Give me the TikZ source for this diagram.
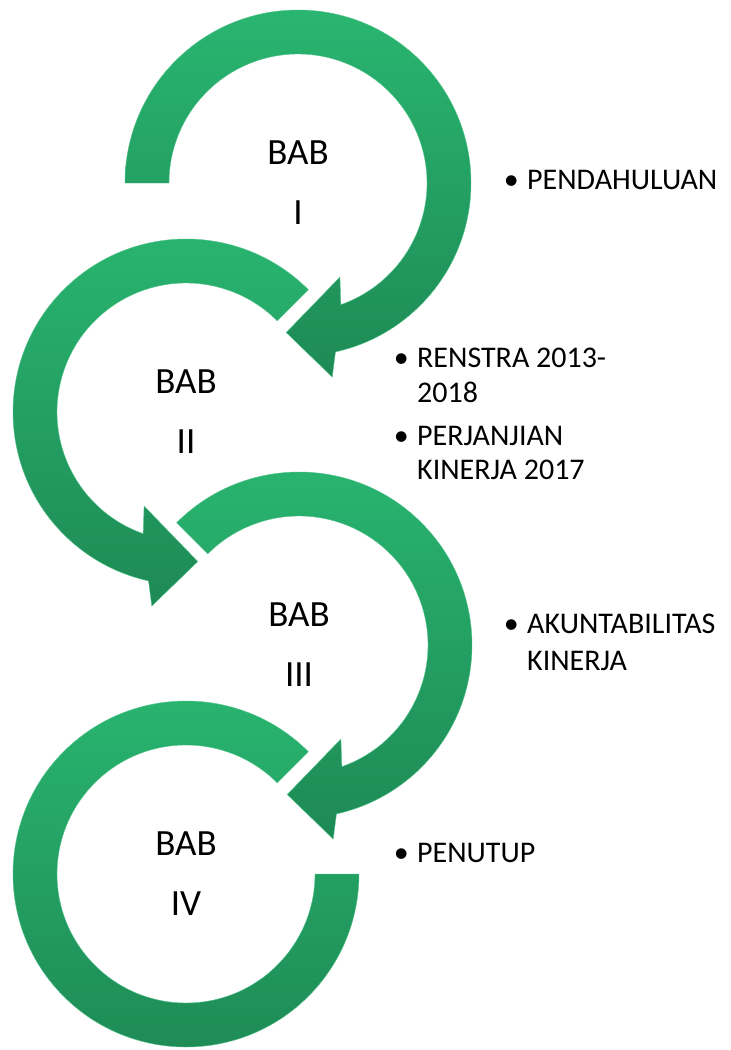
\documentclass[tikz,border=0pt]{standalone}
\usepackage{fontspec}
\setmainfont{Carlito}
\definecolor{ringtop}{HTML}{29B570}
\definecolor{ringbot}{HTML}{1E8A55}
\tikzset{
	ring/.style={top color=ringtop, bottom color=ringbot, draw=ringtop!80!white, line width=0.4pt},
	bab/.style={align=center, font=\fontsize{37}{60}\selectfont},
	txt/.style={anchor=base west, inner sep=0pt, font=\fontsize{30}{35}\selectfont},
	dot/.style={anchor=base east, inner sep=0pt, font=\fontsize{30}{35}\selectfont}
}
\begin{document}
\begin{tikzpicture}[x=1pt, y=1pt]
	\useasboundingbox (0,0) rectangle (731,-1050);
	\coordinate (c1) at (298,-183);
	\coordinate (c2) at (186,-412);
	\coordinate (c3) at (299,-645);
	\coordinate (c4) at (186,-874);
	% rings
	\begin{scope}[shift={(c1)}]
		\shade[ring] (180:173) arc[start angle=180, end angle=-77.5, radius=173] -- (-80:197) -- (-94.5:150) -- (-66:103) -- (-70.6:129) arc[start angle=-70.6, end angle=180, radius=129] -- cycle;
	\end{scope}
	\begin{scope}[shift={(c2)}]
		\shade[ring] (45:173) arc[start angle=45, end angle=257.5, radius=173] -- (260:197) -- (274.5:150) -- (246:103) -- (250.6:129) arc[start angle=250.6, end angle=45, radius=129] -- cycle;
	\end{scope}
	\begin{scope}[shift={(c3)}]
		\shade[ring] (135:173) arc[start angle=135, end angle=-77.5, radius=173] -- (-80:197) -- (-94.5:150) -- (-66:103) -- (-70.6:129) arc[start angle=-70.6, end angle=135, radius=129] -- cycle;
	\end{scope}
	\begin{scope}[shift={(c4)}]
		\shade[ring] (45:173) arc[start angle=45, end angle=360, radius=173] -- (0:129) arc[start angle=360, end angle=45, radius=129] -- cycle;
	\end{scope}
	% labels
	\node[bab] (bab1) at (c1) {BAB\\I};
	\node[bab] (bab2) at (c2) {BAB\\II};
	\node[bab] (bab3) at (c3) {BAB\\III};
	\node[bab] (bab4) at (c4) {BAB\\IV};
	\node[txt] (pend) at (527,-189) {PENDAHULUAN};
	\node[dot] at (519,-189) {\textbullet};
	\node[txt] (ren1) at (417,-367) {RENSTRA 2013-};
	\node[txt] (ren2) at (417,-402) {2018};
	\node[dot] at (409,-367) {\textbullet};
	\node[txt] (pk1) at (417,-445) {PERJANJIAN};
	\node[txt] (pk2) at (417,-479) {KINERJA 2017};
	\node[dot] at (409,-445) {\textbullet};
	\node[txt] (ak1) at (527,-633) {AKUNTABILITAS};
	\node[txt] (ak2) at (527,-670) {KINERJA};
	\node[dot] at (519,-633) {\textbullet};
	\node[txt] (tup) at (417,-862) {PENUTUP};
	\node[dot] at (409,-862) {\textbullet};
\end{tikzpicture}
\end{document}
